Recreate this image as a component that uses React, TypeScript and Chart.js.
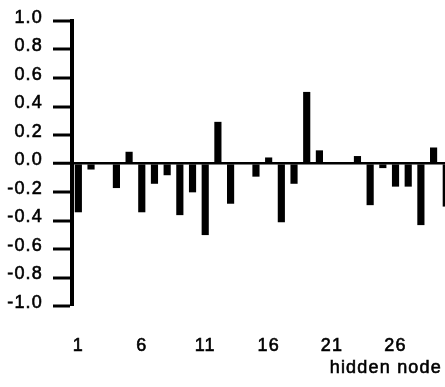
import React, { useEffect, useRef } from "react";
import { Chart, registerables } from "chart.js";

Chart.register(...registerables);

// Hidden node index and its output weight
const nodes = [
  1, 2, 3, 4, 5, 6, 7, 8, 9, 10, 11, 12, 13, 14, 15, 16, 17, 18, 19, 20, 21,
  22, 23, 24, 25, 26, 27, 28, 29, 30,
];
const weights = [
  -0.34, -0.04, 0, -0.17, 0.08, -0.34, -0.14, -0.08, -0.36, -0.2, -0.5, 0.29,
  -0.28, 0, -0.09, 0.04, -0.41, -0.14, 0.5, 0.09, 0, 0, 0.05, -0.29, -0.03,
  -0.16, -0.16, -0.43, 0.11, -0.3,
];
const xTickValues = [1, 6, 11, 16, 21, 26];
const yMin = -1;
const yMax = 1;
const yStep = 0.2;
const xTitle = "hidden node";

const FAMILY = "'Liberation Sans', Arial, Helvetica, sans-serif";
const FONT = { family: FAMILY, size: 18 };
const TRACKING = "1.2px";
const TEXT_STROKE = 0.6;

// Loose tracking for all canvas text, like the typeset labels
const trackingPlugin = {
  id: "tracking",
  beforeUpdate(chart: any) {
    chart.ctx.letterSpacing = TRACKING;
  },
  beforeDraw(chart: any) {
    chart.ctx.letterSpacing = TRACKING;
    // nudge the value labels up a little against their tick marks
    const y = chart.scales.y;
    y.getLabelItems().forEach((item: any) => {
      if (!item._nudged) {
        item.options.translation[1] -= 3;
        item._nudged = true;
      }
    });
  },
  // axis caption under the last tick labels, right-aligned near the edge
  afterDraw(chart: any) {
    const ctx = chart.ctx;
    ctx.save();
    ctx.letterSpacing = TRACKING;
    ctx.font = `18px ${FAMILY}`;
    ctx.textAlign = "right";
    ctx.textBaseline = "alphabetic";
    ctx.fillStyle = "#000";
    ctx.strokeStyle = "#000";
    ctx.lineWidth = TEXT_STROKE;
    const x = chart.chartArea.right - 3;
    const yb = chart.height - 14;
    ctx.fillText(xTitle, x, yb);
    ctx.strokeText(xTitle, x, yb);
    ctx.restore();
  },
};

export default function App() {
  const canvasRef = useRef<HTMLCanvasElement | null>(null);

  useEffect(() => {
    const canvas = canvasRef.current;
    if (!canvas) return;
    const chart = new Chart(canvas, {
      type: "bar",
      data: {
        datasets: [
          {
            data: nodes.map((n, i) => ({ x: n, y: weights[i] })),
            backgroundColor: "#000",
            borderWidth: 0,
            barThickness: 6.5,
          },
        ],
      },
      options: {
        animation: false,
        responsive: false,
        events: [],
        layout: { padding: { top: 21, left: 0, right: 0, bottom: 0 } },
        plugins: {
          legend: { display: false },
          tooltip: { enabled: false },
        },
        scales: {
          x: {
            type: "linear",
            min: 0.5,
            max: 29.9,
            offset: false,
            grid: { display: false, drawTicks: false },
            border: { display: false },
            afterBuildTicks: (scale: any) => {
              scale.ticks = xTickValues.map((v) => ({ value: v }));
            },
            afterFit: (scale: any) => {
              scale.height = 81;
            },
            ticks: {
              color: "#000",
              font: FONT,
              padding: 29,
              autoSkip: false,
              maxRotation: 0,
              textStrokeColor: "#000",
              textStrokeWidth: TEXT_STROKE,
              callback: (v: any) => String(v),
            },
          },
          y: {
            type: "linear",
            min: yMin,
            max: yMax,
            afterFit: (scale: any) => {
              scale.width = 72;
            },
            border: { display: true, color: "#000", width: 4 },
            grid: {
              drawOnChartArea: true,
              drawTicks: true,
              tickLength: 19,
              tickWidth: 3,
              tickColor: "#000",
              color: (ctx: any) =>
                ctx.tick && Math.abs(ctx.tick.value) < 1e-9 ? "#000" : "rgba(0,0,0,0)",
              lineWidth: (ctx: any) =>
                ctx.tick && Math.abs(ctx.tick.value) < 1e-9 ? 2.5 : 0,
            },
            ticks: {
              stepSize: yStep,
              color: "#000",
              font: FONT,
              padding: 10,
              textStrokeColor: "#000",
              textStrokeWidth: TEXT_STROKE,
              callback: (v: any) => (Math.abs(v) < 1e-9 ? 0 : Number(v)).toFixed(1),
            },
          },
        },
      },
      plugins: [trackingPlugin],
    } as any);
    return () => chart.destroy();
  }, []);

  return (
    <div
      style={{
        position: "absolute",
        left: 0,
        top: 0,
        width: 445,
        height: 387,
        overflow: "hidden",
        background: "#fff",
      }}
    >
      <canvas ref={canvasRef} width={445} height={387} style={{ display: "block" }} />
    </div>
  );
}
